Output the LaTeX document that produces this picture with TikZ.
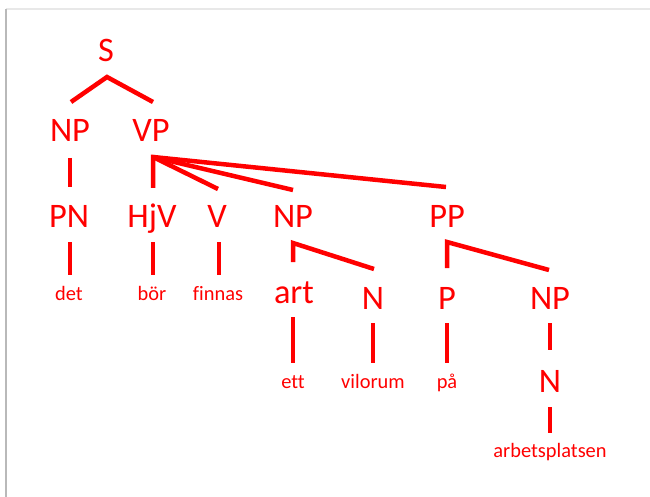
\documentclass[tikz,border=0pt]{standalone}
\usepackage{fontspec}
\setmainfont{Carlito}[Ligatures=NoCommon]
\begin{document}
\begin{tikzpicture}[x=1bp,y=-1bp,
  big/.style={anchor=base,inner sep=0pt,text=red,font=\fontsize{34.5}{40}\selectfont},
  small/.style={anchor=base,inner sep=0pt,text=red,font=\fontsize{20.5}{24}\selectfont},
  branch/.style={draw=red,line width=4.5bp,line join=miter}]
\useasboundingbox (0,0) rectangle (650,497);
\fill[white] (0,0) rectangle (650,497);
\draw[gray!18, line width=2.5bp] (6,9) -- (650,9);
\draw[gray!55, line width=2bp] (6,9) -- (6,497);
% nodes
\node[big] (S) at (106,62) {S};
\node[big] (NPa) at (70,142) {NP};
\node[big] (VP) at (151,142) {VP};
\node[big] (PN) at (69,228) {PN};
\node[big] (HjV) at (152,228) {HjV};
\node[big] (V) at (217,228) {V};
\node[big] (NPb) at (293,228) {NP};
\node[big] (PP) at (447,228) {PP};
\node[small] (det) at (69,300) {det};
\node[small] (bor) at (152,300) {bör};
\node[small] (finnas) at (218,300) {finnas};
\node[big] (art) at (294,303) {art};
\node[big] (N1) at (373,309) {N};
\node[big] (P) at (447,309) {P};
\node[big] (NPc) at (550,309) {NP};
\node[small] (ett) at (293,388) {ett};
\node[small] (vilorum) at (373,388) {vilorum};
\node[small] (pa) at (447,388) {på};
\node[big] (N2) at (550,392) {N};
\node[small] (arb) at (550,457) {arbetsplatsen};
% junctions and line ends
\coordinate (Sj) at (107,77);
\coordinate (Sl) at (71,102);
\coordinate (Sr) at (153,102);
\coordinate (NPaB) at (70,158);
\coordinate (PNT) at (70,187);
\coordinate (VPj) at (153,157);
\coordinate (HjVT) at (153,188);
\coordinate (VT) at (218,189);
\coordinate (NPbT) at (293,190);
\coordinate (PPT) at (446,187);
\coordinate (PNB) at (70,242);
\coordinate (detT) at (70,275);
\coordinate (HjVB) at (153,242);
\coordinate (borT) at (153,275);
\coordinate (VB) at (219,242);
\coordinate (finT) at (219,275);
\coordinate (NPbj) at (293,243);
\coordinate (artT) at (293,262);
\coordinate (N1T) at (374,269);
\coordinate (PPj) at (447,242);
\coordinate (PT) at (447,268);
\coordinate (NPcT) at (549,270);
\coordinate (artB) at (293,317);
\coordinate (ettT) at (293,363);
\coordinate (N1B) at (373,323);
\coordinate (vilT) at (373,363);
\coordinate (PB) at (447,323);
\coordinate (paT) at (447,363);
\coordinate (NPcB) at (550,323);
\coordinate (N2T) at (550,350);
\coordinate (N2B) at (550,407);
\coordinate (arbT) at (550,433);
% branches
\draw[branch] (Sl) -- (Sj) -- (Sr);
\draw[branch] (NPaB) -- (PNT);
\draw[branch] (HjVT) -- (VPj) -- (PPT);
\draw[branch] (VPj) -- (VT);
\draw[branch] (VPj) -- (NPbT);
\draw[branch] (PNB) -- (detT);
\draw[branch] (HjVB) -- (borT);
\draw[branch] (VB) -- (finT);
\draw[branch] (artT) -- (NPbj) -- (N1T);
\draw[branch] (PT) -- (PPj) -- (NPcT);
\draw[branch] (artB) -- (ettT);
\draw[branch] (N1B) -- (vilT);
\draw[branch] (PB) -- (paT);
\draw[branch] (NPcB) -- (N2T);
\draw[branch] (N2B) -- (arbT);
\end{tikzpicture}
\end{document}
